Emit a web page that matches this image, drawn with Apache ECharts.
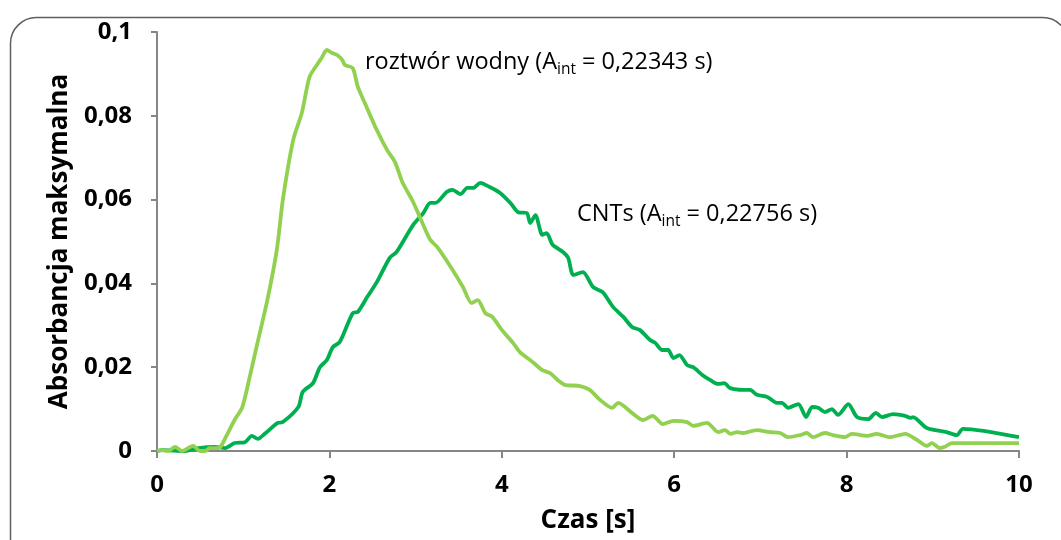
<!DOCTYPE html>
<html><head><meta charset="utf-8">
<script src="https://cdn.jsdelivr.net/npm/echarts@6/dist/echarts.min.js"></script>
<style>html,body{margin:0;padding:0;background:#fff}#c{width:1061px;height:540px}</style>
</head><body><div id="c"></div>
<script>
// ---- data ----
const xTitle = 'Czas [s]';
const yTitle = 'Absorbancja maksymalna';
const nameWodny = 'roztwór wodny';
const aintWodny = '0,22343';
const nameCNT = 'CNTs';
const aintCNT = '0,22756';

const tWodny = [0,0.06,0.13,0.21,0.29,0.42,0.50,0.56,0.61,0.71,0.75,0.81,0.90,0.99,1.08,1.16,1.28,1.39,1.46,1.58,1.68,1.77,1.87,1.91,1.97,2.03,2.09,2.15,2.18,2.27,2.33,2.41,2.55,2.67,2.76,2.85,2.96,3.05,3.17,3.25,3.43,3.55,3.65,3.72,3.81,3.89,4.00,4.13,4.21,4.36,4.47,4.56,4.65,4.73,4.91,5.02,5.14,5.28,5.35,5.51,5.64,5.75,5.87,5.99,6.15,6.22,6.38,6.51,6.59,6.65,6.73,6.80,6.96,7.11,7.23,7.32,7.46,7.54,7.61,7.75,7.84,7.98,8.06,8.24,8.35,8.50,8.68,8.82,8.93,8.99,9.08,9.14,9.22,10];
const aWodny = [0,0.0002,0,0.001,0,0.0012,0,0,0.0007,0.0007,0.0014,0.0038,0.0074,0.0105,0.0181,0.0253,0.036,0.048,0.060,0.0742,0.0807,0.0893,0.0926,0.0938,0.0957,0.0950,0.0945,0.0933,0.0921,0.0914,0.0869,0.0831,0.0766,0.0718,0.0690,0.0640,0.0599,0.0558,0.0504,0.0487,0.0432,0.0391,0.0353,0.0360,0.0329,0.0320,0.0289,0.0258,0.0236,0.0212,0.0193,0.0186,0.0169,0.0158,0.0155,0.0146,0.0122,0.0103,0.0115,0.0091,0.0074,0.0084,0.0064,0.0072,0.0069,0.0060,0.0067,0.0045,0.0050,0.0041,0.0045,0.0043,0.0050,0.0045,0.0043,0.0033,0.0038,0.0043,0.0033,0.0043,0.0038,0.0033,0.0041,0.0036,0.0041,0.0033,0.0041,0.0026,0.0012,0.0019,0.0007,0.0010,0.0019,0.0019];

const tCNT = [0,0.06,0.32,0.48,0.67,0.79,0.90,1.02,1.10,1.17,1.25,1.40,1.46,1.64,1.69,1.81,1.89,1.97,2.04,2.12,2.27,2.33,2.44,2.55,2.70,2.78,2.97,3.09,3.17,3.23,3.36,3.43,3.52,3.60,3.67,3.75,3.86,3.98,4.10,4.19,4.29,4.33,4.39,4.47,4.52,4.59,4.71,4.77,4.83,4.94,5.06,5.17,5.29,5.41,5.51,5.60,5.72,5.78,5.86,5.93,5.99,6.06,6.15,6.22,6.33,6.42,6.51,6.58,6.65,6.80,6.88,6.96,7.08,7.19,7.25,7.32,7.44,7.53,7.60,7.67,7.75,7.83,7.90,8.02,8.12,8.25,8.34,8.41,8.54,8.68,8.74,8.77,8.93,9.16,9.28,9.35,10];
const aCNT = [0,0.0002,0,0.0007,0.001,0.0007,0.0019,0.0021,0.0036,0.0029,0.0041,0.0067,0.0069,0.0105,0.0141,0.0162,0.0200,0.0217,0.0248,0.0260,0.0329,0.0332,0.0368,0.0403,0.0461,0.0475,0.0539,0.0568,0.0592,0.0592,0.0618,0.0623,0.0613,0.0628,0.0628,0.0640,0.0630,0.0616,0.0592,0.0570,0.0568,0.0544,0.0563,0.0516,0.0520,0.0492,0.0475,0.0461,0.0420,0.0427,0.0391,0.0379,0.0344,0.0320,0.0296,0.0289,0.0265,0.0258,0.0241,0.0241,0.0222,0.0229,0.0205,0.0200,0.0181,0.0169,0.0160,0.0162,0.0150,0.0146,0.0146,0.0134,0.0129,0.0115,0.0115,0.0103,0.0112,0.0081,0.0105,0.0103,0.0093,0.0100,0.0086,0.0112,0.0081,0.0076,0.0091,0.0081,0.0088,0.0084,0.0079,0.0081,0.0055,0.0045,0.0038,0.0053,0.0033];

const xMin = 0, xMax = 10, xStep = 2;
const yMin = 0, yMax = 0.1, yStep = 0.02;
// ---- chart ----
const FONT = 'Open Sans';
const pairs = (t, a) => t.map((v, i) => [v, a[i]]);
const chart = echarts.init(document.getElementById('c'), null, {renderer: 'canvas'});
const axisGray = '#868686';
const annStyle = {
  n: {fontFamily: FONT, fontSize: 23.5, color: '#000', lineHeight: 32, verticalAlign: 'middle'},
  s: {fontFamily: FONT, fontSize: 15.5, color: '#000', lineHeight: 15, verticalAlign: 'bottom'}
};
chart.setOption({
  animation: false,
  backgroundColor: '#fff',
  grid: {left: 157, right: 42, top: 32, bottom: 89, containLabel: false},
  xAxis: {
    type: 'value', min: xMin, max: xMax, interval: xStep,
    name: xTitle, nameLocation: 'middle', nameGap: 57,
    nameTextStyle: {fontFamily: FONT, fontWeight: 'bold', fontSize: 26, color: '#000'},
    axisLine: {show: true, lineStyle: {color: axisGray, width: 2}},
    axisTick: {show: true, inside: false, length: 7, lineStyle: {color: axisGray, width: 2}},
    axisLabel: {fontFamily: FONT, fontWeight: 'bold', fontSize: 24, color: '#000', margin: 22},
    splitLine: {show: false}
  },
  yAxis: {
    type: 'value', min: yMin, max: yMax, interval: yStep,
    name: yTitle, nameLocation: 'middle', nameGap: 81, nameRotate: 90,
    nameTextStyle: {fontFamily: FONT, fontWeight: 'bold', fontSize: 26, color: '#000'},
    axisLine: {show: true, lineStyle: {color: axisGray, width: 2}},
    axisTick: {show: true, inside: false, length: 6, lineStyle: {color: axisGray, width: 2}},
    axisLabel: {fontFamily: FONT, fontWeight: 'bold', fontSize: 24, color: '#000', margin: 25,
      formatter: v => v === 0 ? '0' : String(+v.toFixed(2)).replace('.', ',')},
    splitLine: {show: false}
  },
  series: [
    {name: nameCNT, type: 'line', data: pairs(tCNT, aCNT), showSymbol: false, smooth: 0.25,
     lineStyle: {color: '#00B050', width: 3.8}, itemStyle: {color: '#00B050'}, z: 2},
    {name: nameWodny, type: 'line', data: pairs(tWodny, aWodny), showSymbol: false, smooth: 0.25,
     lineStyle: {color: '#92D050', width: 3.8}, itemStyle: {color: '#92D050'}, z: 3}
  ],
  graphic: [
    {type: 'rect', left: 8, top: 15, shape: {x: 0, y: 0, width: 1058, height: 620, r: 26},
     style: {fill: 'none', stroke: '#5f5f5f', lineWidth: 1.5}, silent: true, z: -1},
    {type: 'text', left: 365, top: 50,
     style: {text: '{n|' + nameWodny + ' (A}{s|int}{n| = ' + aintWodny + ' s)}', rich: annStyle}},
    {type: 'text', left: 577, top: 202,
     style: {text: '{n|' + nameCNT + ' (A}{s|int}{n| = ' + aintCNT + ' s)}', rich: annStyle}}
  ]
});
</script></body></html>
